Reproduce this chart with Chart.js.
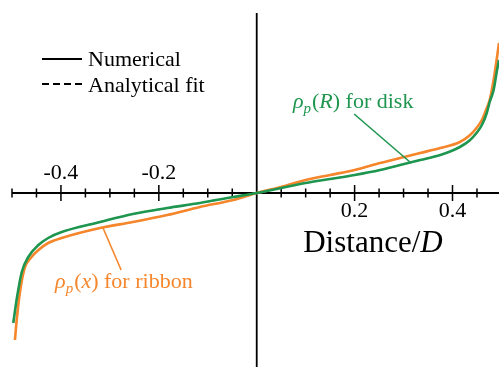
<!DOCTYPE html>
<html>
<head>
<meta charset="utf-8">
<script src="https://cdn.jsdelivr.net/npm/chart.js@4/dist/chart.umd.min.js"></script>
<style>
html,body{margin:0;padding:0;background:#fff;overflow:hidden;}
#wrap{position:relative;width:499px;height:367px;}
</style>
</head>
<body>
<div id="wrap"><canvas id="c"></canvas></div>
<script>
// ---- data ----
const diskX = [-0.4974,-0.49,-0.48,-0.4667,-0.446,-0.426,-0.3985,-0.32,-0.253,-0.183,-0.116,-0.048,0,0.05,0.1,0.15,0.2,0.252,0.293,0.334,0.375,0.415,0.436,0.449,0.46,0.47,0.476,0.484,0.491,0.495];
const diskY = [-1.30,-1.05,-0.79,-0.64,-0.52,-0.45,-0.39,-0.29,-0.21,-0.15,-0.10,-0.04,0,0.05,0.10,0.14,0.18,0.23,0.28,0.33,0.38,0.46,0.53,0.60,0.68,0.80,0.91,1.03,1.23,1.33];
const ribbonX = [-0.494,-0.49,-0.4837,-0.474,-0.46,-0.446,-0.426,-0.3985,-0.32,-0.253,-0.183,-0.116,-0.048,0,0.05,0.1,0.15,0.2,0.252,0.293,0.334,0.375,0.415,0.436,0.449,0.46,0.47,0.476,0.484,0.491,0.495];
const ribbonY = [-1.47,-1.25,-0.99,-0.75,-0.64,-0.57,-0.50,-0.45,-0.35,-0.29,-0.22,-0.14,-0.07,0,0.06,0.13,0.18,0.23,0.30,0.35,0.40,0.45,0.51,0.58,0.65,0.73,0.85,0.93,1.13,1.36,1.50];
const tickValues = [-0.5,-0.45,-0.4,-0.35,-0.3,-0.25,-0.2,-0.15,-0.1,-0.05,0.05,0.1,0.15,0.2,0.25,0.3,0.35,0.4,0.45];
const majorTicks = [-0.4,-0.2,0.2,0.4];
const majorLabels = ['-0.4','-0.2','0.2','0.4'];
const legendLabels = ['Numerical','Analytical fit'];

const GREEN = '#1f9650';
const ORANGE = '#f5862c';
const SERIF = '"Liberation Serif","DejaVu Serif",serif';

const pts = (xs, ys) => xs.map((x, i) => ({x: x, y: ys[i]}));

function drawRich(ctx, x, y, parts, color) {
  ctx.save();
  ctx.fillStyle = color;
  ctx.textBaseline = 'alphabetic';
  ctx.textAlign = 'left';
  let cx = x;
  for (const p of parts) {
    ctx.font = (p.it ? 'italic ' : '') + p.s + 'px ' + SERIF;
    ctx.fillText(p.t, cx, y + (p.dy || 0));
    cx += ctx.measureText(p.t).width + (p.gap || 0);
  }
  ctx.restore();
}

const overlay = {
  id: 'overlay',
  beforeDatasetsDraw(chart) {
    const ctx = chart.ctx;
    const xs = chart.scales.x, ys = chart.scales.y;
    const a = chart.chartArea;
    const y0 = ys.getPixelForValue(0);
    const x0 = xs.getPixelForValue(0);
    ctx.save();
    ctx.strokeStyle = '#000';
    ctx.lineWidth = 1.8;
    ctx.beginPath();
    ctx.moveTo(a.left, y0); ctx.lineTo(chart.width, y0);
    ctx.moveTo(x0, a.top); ctx.lineTo(x0, chart.height);
    ctx.stroke();
    ctx.lineWidth = 1.5;
    ctx.beginPath();
    for (const v of tickValues) {
      const px = xs.getPixelForValue(v);
      const major = majorTicks.some(m => Math.abs(m - v) < 1e-9);
      const h = major ? 8 : 4.5;
      ctx.moveTo(px, y0 - h); ctx.lineTo(px, y0 + h);
    }
    ctx.stroke();
    ctx.fillStyle = '#000';
    ctx.font = '22px ' + SERIF;
    ctx.textAlign = 'center';
    ctx.textBaseline = 'alphabetic';
    majorTicks.forEach((v, i) => {
      const px = xs.getPixelForValue(v);
      if (v < 0) ctx.fillText(majorLabels[i], px, y0 - 14);
      else ctx.fillText(majorLabels[i], px, y0 + 24);
    });
    ctx.restore();
    // axis title
    drawRich(ctx, xs.getPixelForValue(0.095), y0 + 59,
      [{t:'Distance/', s:31}, {t:'D', s:31, it:true}], '#000');
  },
  afterDatasetsDraw(chart) {
    const ctx = chart.ctx;
    const xs = chart.scales.x, ys = chart.scales.y;
    // legend
    ctx.save();
    ctx.strokeStyle = '#000';
    ctx.lineWidth = 2;
    ctx.beginPath(); ctx.moveTo(42, 59); ctx.lineTo(82, 59); ctx.stroke();
    ctx.setLineDash([7, 4]);
    ctx.beginPath(); ctx.moveTo(42, 84); ctx.lineTo(82, 84); ctx.stroke();
    ctx.setLineDash([]);
    ctx.fillStyle = '#000';
    ctx.font = '22px ' + SERIF;
    ctx.textAlign = 'left';
    ctx.fillText(legendLabels[0], 88, 66);
    ctx.fillText(legendLabels[1], 88, 92);
    // leader lines
    ctx.lineWidth = 1.6;
    ctx.strokeStyle = GREEN;
    ctx.beginPath();
    ctx.moveTo(xs.getPixelForValue(0.199), ys.getPixelForValue(0.79));
    ctx.lineTo(xs.getPixelForValue(0.313), ys.getPixelForValue(0.31));
    ctx.stroke();
    ctx.strokeStyle = ORANGE;
    ctx.beginPath();
    ctx.moveTo(xs.getPixelForValue(-0.314), ys.getPixelForValue(-0.35));
    ctx.lineTo(xs.getPixelForValue(-0.277), ys.getPixelForValue(-0.77));
    ctx.stroke();
    ctx.restore();
    drawRich(ctx, xs.getPixelForValue(0.074), ys.getPixelForValue(0.85),
      [{t:'ρ', s:22, it:true}, {t:'p', s:15, it:true, dy:5, gap:1}, {t:'(', s:22}, {t:'R', s:22, it:true}, {t:')', s:22}, {t:' for disk', s:22}], GREEN);
    drawRich(ctx, xs.getPixelForValue(-0.412), ys.getPixelForValue(-0.95),
      [{t:'ρ', s:22, it:true}, {t:'p', s:15, it:true, dy:5, gap:1}, {t:'(', s:22}, {t:'x', s:22, it:true}, {t:')', s:22}, {t:' for ribbon', s:22}], ORANGE);
  }
};

new Chart(document.getElementById('c'), {
  type: 'line',
  data: {
    datasets: [
      {label: 'disk numerical', data: pts(diskX, diskY), borderColor: GREEN, borderWidth: 2.6, pointRadius: 0, cubicInterpolationMode: 'monotone', fill: false},
      {label: 'ribbon numerical', data: pts(ribbonX, ribbonY), borderColor: ORANGE, borderWidth: 2.6, pointRadius: 0, cubicInterpolationMode: 'monotone', fill: false},
      {label: 'disk fit', data: pts(diskX, diskY), borderColor: GREEN, borderWidth: 1.4, borderDash: [5, 3], pointRadius: 0, cubicInterpolationMode: 'monotone', fill: false},
      {label: 'ribbon fit', data: pts(ribbonX, ribbonY), borderColor: ORANGE, borderWidth: 1.4, borderDash: [5, 3], pointRadius: 0, cubicInterpolationMode: 'monotone', fill: false}
    ]
  },
  options: {
    responsive: true,
    maintainAspectRatio: false,
    animation: false,
    layout: {padding: {left: 12, top: 13, right: 0, bottom: 0}},
    scales: {
      x: {type: 'linear', min: -0.5, max: 0.495, display: false},
      y: {type: 'linear', min: -1.74, max: 1.80, display: false}
    },
    plugins: {legend: {display: false}, tooltip: {enabled: false}}
  },
  plugins: [overlay]
});
</script>
</body>
</html>
